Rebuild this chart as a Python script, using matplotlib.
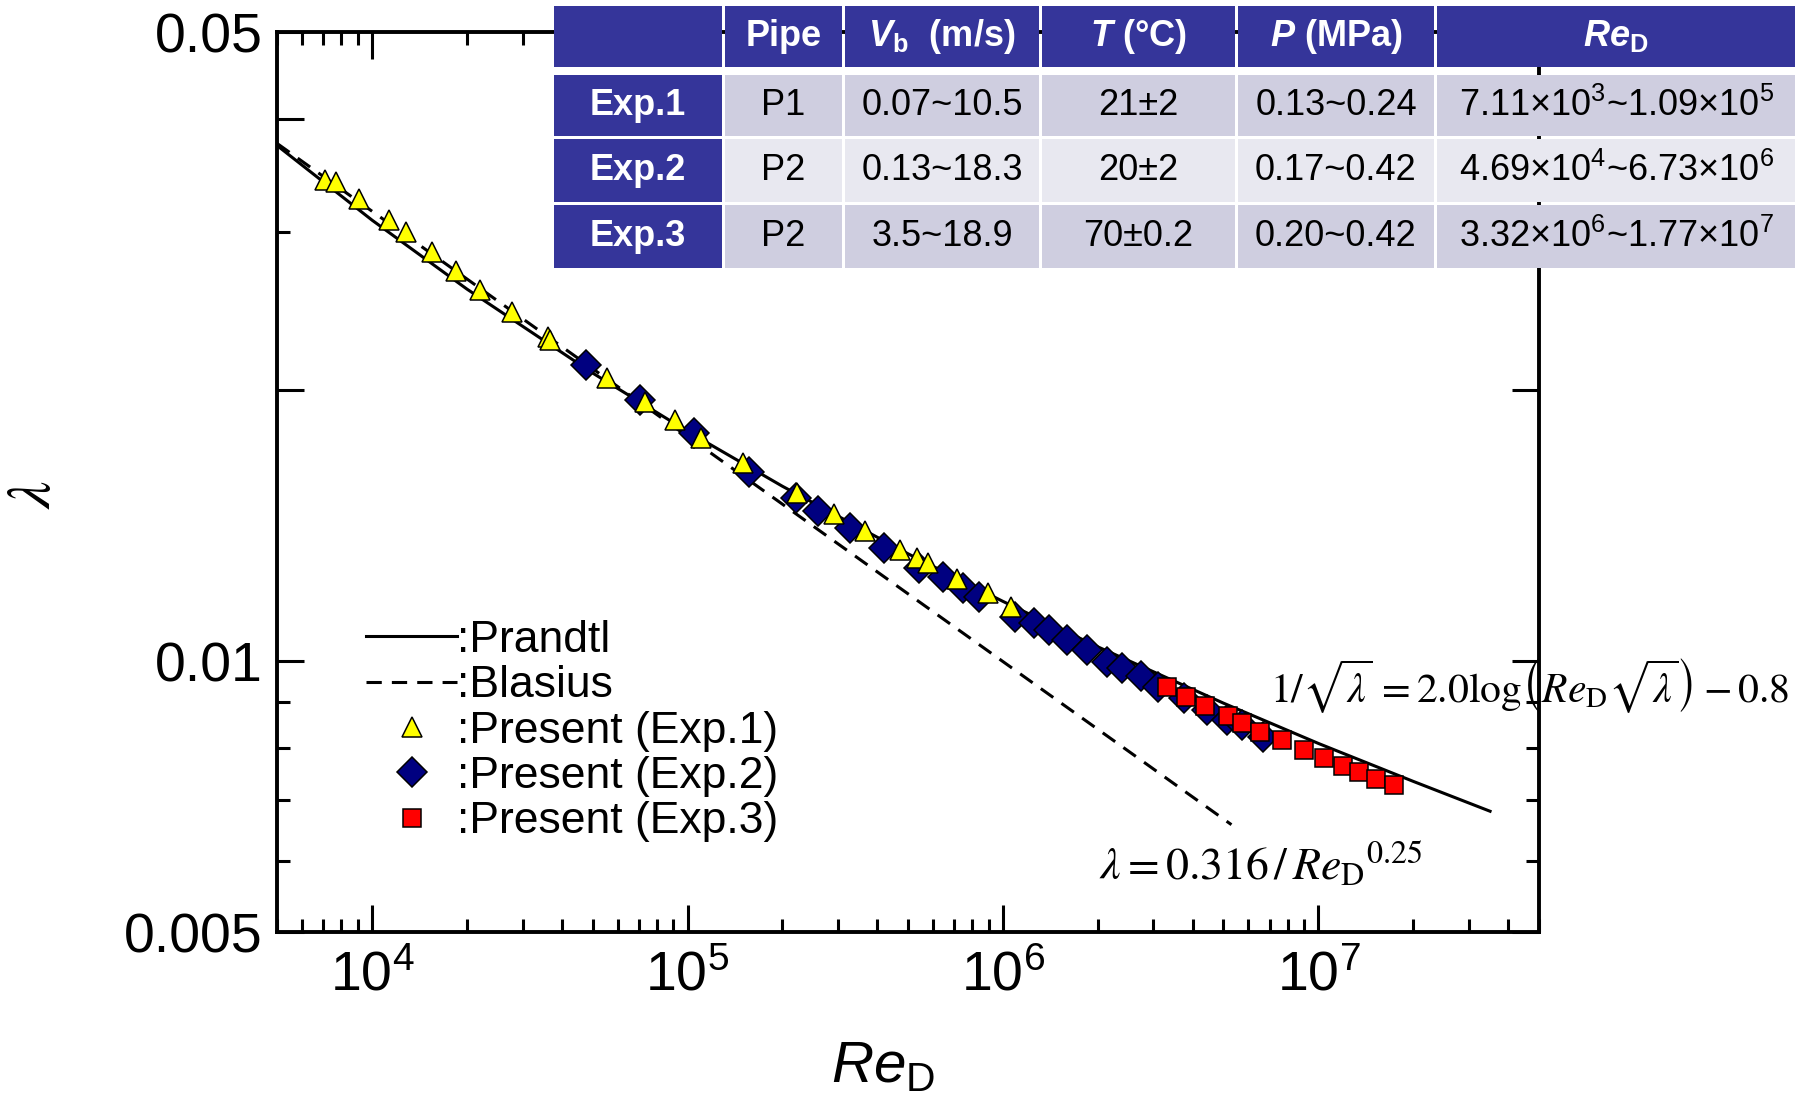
import math
import matplotlib
matplotlib.use("Agg")
import matplotlib.pyplot as plt
from matplotlib.patches import Rectangle
from matplotlib.ticker import FixedLocator, FuncFormatter, LogLocator, NullFormatter

plt.rcParams['font.family'] = ['Liberation Sans', 'DejaVu Sans']
plt.rcParams['mathtext.fontset'] = 'custom'
plt.rcParams['mathtext.rm'] = 'Liberation Sans'
plt.rcParams['mathtext.it'] = 'Liberation Sans:italic'
plt.rcParams['mathtext.bf'] = 'Liberation Sans:bold'
plt.rcParams['mathtext.bfit'] = 'Liberation Sans:italic:bold'

# ---- data ----
# Prandtl curve
re_prandtl = [5e3, 1e4, 2e4, 5e4, 1e5, 2e5, 5e5, 1e6, 2e6, 5e6, 1e7, 2e7, 3.5e7]
lam_prandtl = [0.0374, 0.0309, 0.0259, 0.0209, 0.0180, 0.01564, 0.01316,
               0.01165, 0.01037, 0.00898, 0.00810, 0.00735, 0.00681]
# Blasius line (straight on log-log, two ends)
re_blasius = [5e3, 5.3e6]
lam_blasius = [0.0376, 0.00658]

# Exp.1 (triangles)
re_exp1 = [7.10e3, 7.70e3, 9.08e3, 1.128e4, 1.280e4, 1.544e4, 1.844e4, 2.207e4,
           2.777e4, 3.617e4, 3.678e4, 5.554e4, 7.357e4, 9.13e4, 1.105e5, 1.495e5,
           2.219e5, 2.912e5, 3.659e5, 4.716e5, 5.355e5, 5.790e5, 7.135e5, 8.967e5,
           1.062e6]
lam_exp1 = [0.03423, 0.03406, 0.03259, 0.03090, 0.02994, 0.02846, 0.02711, 0.02581,
            0.02441, 0.02289, 0.02273, 0.02063, 0.01939, 0.01851, 0.01771, 0.01662,
            0.01537, 0.01456, 0.01395, 0.01329, 0.01301, 0.01285, 0.01233, 0.01190,
            0.01149]
# Exp.2 (diamonds)
re_exp2 = [4.762e4, 7.092e4, 1.045e5, 1.564e5, 2.211e5, 2.598e5, 3.283e5, 4.194e5,
           5.410e5, 6.469e5, 7.492e5, 8.395e5, 1.090e6, 1.253e6, 1.400e6, 1.596e6,
           1.853e6, 2.138e6, 2.382e6, 2.732e6, 3.091e6, 3.760e6, 4.424e6, 5.123e6,
           5.740e6, 6.691e6]
lam_exp2 = [0.02134, 0.01952, 0.01794, 0.01624, 0.01518, 0.01468, 0.01406, 0.01337,
            0.01268, 0.01241, 0.01205, 0.01179, 0.01120, 0.01103, 0.01083, 0.01055,
            0.01029, 0.00998, 0.00982, 0.00962, 0.00937, 0.00909, 0.00882, 0.00860,
            0.00849, 0.00824]
# Exp.3 (squares)
re_exp3 = [3.304e6, 3.817e6, 4.372e6, 5.168e6, 5.728e6, 6.542e6, 7.652e6, 8.993e6,
           1.040e7, 1.193e7, 1.347e7, 1.523e7, 1.740e7]
lam_exp3 = [0.00937, 0.00913, 0.00891, 0.00869, 0.00853, 0.00835, 0.00818, 0.00796,
            0.00780, 0.00765, 0.00753, 0.00740, 0.00729]

# table contents
tab_header = ['', 'Pipe', r'$\mathbfit{V}_\mathbf{b}$  (m/s)', r'$\mathbfit{T}$ (°C)',
              r'$\mathbfit{P}$ (MPa)', r'$\mathbfit{Re}_\mathbf{D}$']
tab_exp = ['Exp.1', 'Exp.2', 'Exp.3']
tab_pipe = ['P1', 'P2', 'P2']
tab_vb = ['0.07~10.5', '0.13~18.3', '3.5~18.9']
tab_temp = ['21±2', '20±2', '70±0.2']
tab_press = ['0.13~0.24', '0.17~0.42', '0.20~0.42']
tab_re = [(7.11, 3, 1.09, 5), (4.69, 4, 6.73, 6), (3.32, 6, 1.77, 7)]

# ---- figure ----
fig = plt.figure(figsize=(18.05, 10.97), dpi=100)
ax = fig.add_axes([0.1535, 0.1504, 0.6991, 0.8204])

hp, = ax.plot(re_prandtl, lam_prandtl, '-', color='black', lw=2.2, label=':Prandtl', zorder=2)
hb, = ax.plot(re_blasius, lam_blasius, '--', color='black', lw=2.2, dashes=(5, 3.3),
              label=':Blasius', zorder=2)
h2, = ax.plot(re_exp2, lam_exp2, 'D', ms=15, mfc='#000080', mec='black', mew=1.1,
              ls='none', label=':Present (Exp.2)', zorder=3)
h1, = ax.plot(re_exp1, lam_exp1, '^', ms=14, mfc='#FFFF00', mec='black', mew=1.1,
              ls='none', label=':Present (Exp.1)', zorder=4)
h3, = ax.plot(re_exp3, lam_exp3, 's', ms=13, mfc='#FF0000', mec='black', mew=1.1,
              ls='none', label=':Present (Exp.3)', zorder=5)

ax.set_xscale('log')
ax.set_yscale('log')
ax.set_xlim(5e3, 5e7)
ax.set_ylim(0.005, 0.05)

ax.xaxis.set_major_locator(LogLocator(base=10))
ax.xaxis.set_minor_locator(LogLocator(base=10, subs=[2, 3, 4, 5, 6, 7, 8, 9]))
ax.xaxis.set_major_formatter(FuncFormatter(lambda v, p: r'$10^{%d}$' % round(math.log10(v))))
ax.xaxis.set_minor_formatter(NullFormatter())

ylabels = {0.005: '0.005', 0.01: '0.01', 0.05: '0.05'}
ax.yaxis.set_major_locator(FixedLocator([0.005, 0.01, 0.02, 0.04, 0.05]))
ax.yaxis.set_minor_locator(FixedLocator([0.006, 0.007, 0.008, 0.009, 0.03]))
ax.yaxis.set_major_formatter(FuncFormatter(lambda v, p: ylabels.get(round(v, 4), '')))
ax.yaxis.set_minor_formatter(NullFormatter())

ax.tick_params(which='both', direction='in', top=True, right=True, width=2.2, labelsize=40)
ax.tick_params(which='major', length=19.5)
ax.tick_params(which='minor', length=9.5)
ax.tick_params(axis='x', pad=13)
ax.tick_params(axis='y', pad=10.5)
for s in ax.spines.values():
    s.set_linewidth(2.8)

ax.set_xlabel(r'$Re_\mathrm{D}$', fontsize=42)
ax.xaxis.set_label_coords(0.48, -0.12)
ax.set_ylabel(r'$\lambda$', fontsize=44, math_fontfamily='stix')
ax.yaxis.set_label_coords(-0.17, 0.486)

ax.legend(handles=[hp, hb, h1, h2, h3], loc='upper left',
          bbox_to_anchor=(0.0705, 0.347), frameon=False, fontsize=32, numpoints=1,
          handlelength=2.05, handletextpad=0.0, borderpad=0, borderaxespad=0,
          labelspacing=0.1)

fig.text(1270 / 1805, 1 - 686 / 1097,
         r'$1/\sqrt{\lambda}\,=2.0\mathrm{log}\left(Re_\mathrm{D}\sqrt{\lambda}\right)-0.8$',
         fontsize=30, math_fontfamily='stix', ha='left', va='center')
fig.text(1099 / 1805, 1 - 866 / 1097, r'$\lambda=0.316\,/\,Re_\mathrm{D}{}^{0.25}$',
         fontsize=33, math_fontfamily='stix', ha='left', va='center')

# ---- table (pixel layout) ----
tax = fig.add_axes([0, 0, 1, 1])
tax.set_xlim(0, 1805)
tax.set_ylim(1097, 0)
tax.axis('off')
col_l = [554, 725, 845, 1042, 1238, 1437]
col_r = [722, 842, 1039, 1235, 1434, 1795]
row_t = [6, 75, 139, 205]
row_b = [67, 136, 202, 268]
blue = '#35359A'
body_bg = ['#CFCEE0', '#E8E8F0', '#CFCEE0']

rows = [tab_header]
for i in range(3):
    a, b, c, d = tab_re[i]
    rows.append([tab_exp[i], tab_pipe[i], tab_vb[i], tab_temp[i], tab_press[i],
                 r'%.2f$\times$10$^{%d}$~%.2f$\times$10$^{%d}$' % (a, b, c, d)])

for r in range(4):
    for c in range(6):
        if r == 0 or c == 0:
            fc, tc, fw = blue, 'white', 'bold'
        else:
            fc, tc, fw = body_bg[r - 1], 'black', 'normal'
        tax.add_patch(Rectangle((col_l[c], row_t[r]), col_r[c] - col_l[c],
                                row_b[r] - row_t[r], facecolor=fc, edgecolor='none'))
        tax.text((col_l[c] + col_r[c]) / 2, (row_t[r] + row_b[r]) / 2, rows[r][c],
                 ha='center', va='center', fontsize=26, color=tc, fontweight=fw)

fig.savefig('out.png', dpi=100)
